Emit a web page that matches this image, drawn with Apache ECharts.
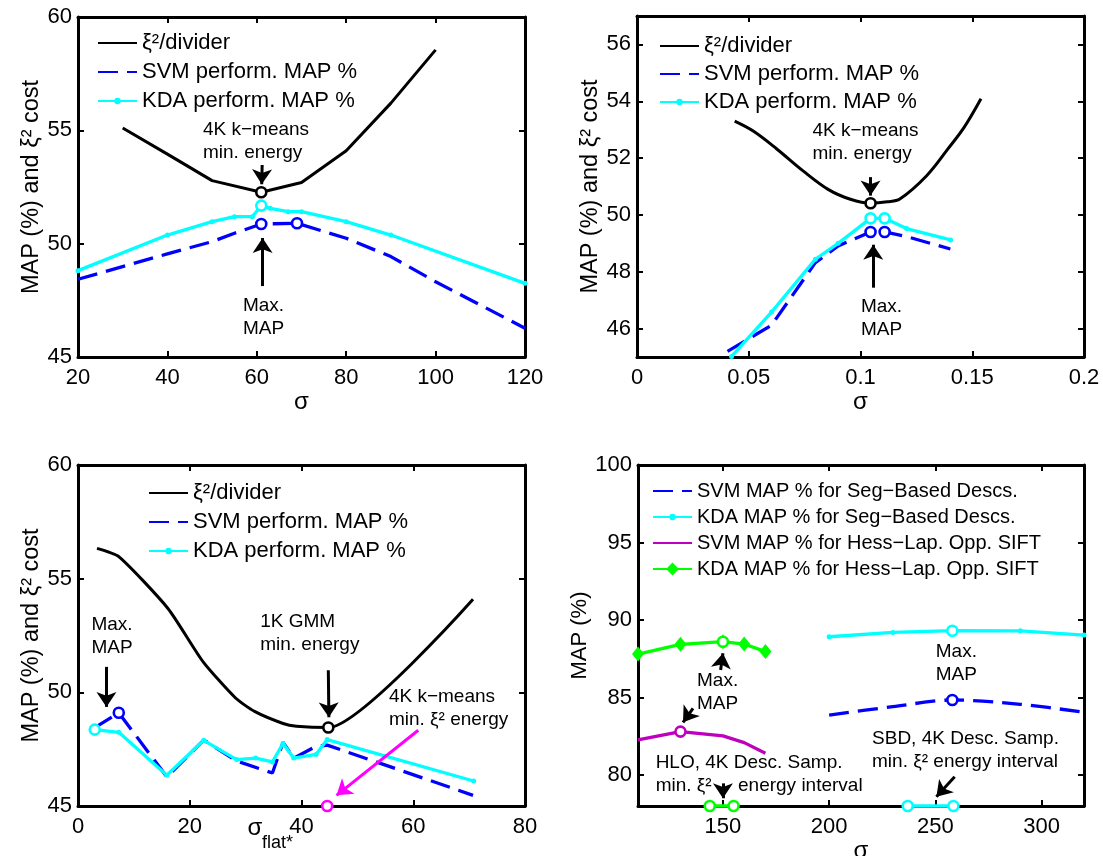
<!DOCTYPE html>
<html><head><meta charset="utf-8">
<script src="https://cdn.jsdelivr.net/npm/echarts@6/dist/echarts.min.js"></script>
<style>html,body{margin:0;padding:0;background:#fff}#c{width:1103px;height:856px}</style>
</head><body><div id="c"></div>
<script>
// ---------- Panel 1 (top-left) ----------
const p1ChiX = [30, 40, 50, 61, 70, 80, 90, 100];
const p1Chi  = [55.1, 53.95, 52.78, 52.27, 52.7, 54.1, 56.2, 58.55];
const p1SvmX = [20, 40, 50, 55, 61, 69, 80, 90, 100, 120];
const p1Svm  = [48.43, 49.55, 50.09, 50.46, 50.87, 50.9, 50.24, 49.43, 48.32, 46.27];
const p1KdaX = [20, 40, 50, 55, 59, 61, 63, 67, 70, 80, 90, 120];
const p1Kda  = [48.81, 50.38, 50.97, 51.19, 51.19, 51.68, 51.56, 51.41, 51.41, 50.97, 50.38, 48.25];
const p1CircBlack = [[61, 52.27]];
const p1CircCyan  = [[61, 51.68]];
const p1CircBlue  = [[61, 50.87], [69, 50.9]];
const p1XTicks = [20, 40, 60, 80, 100, 120];
const p1YTicks = [45, 50, 55, 60];

// ---------- Panel 2 (top-right) ----------
const p2ChiX = [0.0437, 0.052, 0.0624, 0.0743, 0.0855, 0.0955, 0.1045, 0.112, 0.1176, 0.1296, 0.1392, 0.1465, 0.1539];
const p2Chi  = [53.3, 52.95, 52.33, 51.55, 50.9, 50.55, 50.41, 50.46, 50.56, 51.38, 52.33, 53.1, 54.09];
const p2SvmX = [0.0405, 0.0602, 0.0798, 0.09, 0.1045, 0.1108, 0.1206, 0.1402];
const p2Svm  = [45.2, 46.12, 48.32, 48.91, 49.4, 49.4, 49.24, 48.8];
const p2KdaX = [0.0423, 0.0602, 0.0798, 0.09, 0.1045, 0.1108, 0.1206, 0.1403];
const p2Kda  = [45.02, 46.58, 48.44, 49.0, 49.88, 49.88, 49.52, 49.12];
const p2CircBlack = [[0.1045, 50.41]];
const p2CircCyan  = [[0.1045, 49.88], [0.1108, 49.88]];
const p2CircBlue  = [[0.1045, 49.4], [0.1108, 49.4]];
const p2XTicks = [0, 0.05, 0.1, 0.15, 0.2];
const p2YTicks = [46, 48, 50, 52, 54, 56];

// ---------- Panel 3 (bottom-left) ----------
const p3ChiX = [3.4, 7.35, 16.1, 22.4, 28.2, 31.6, 36.7, 39.1, 44.8, 70.7];
const p3Chi  = [56.33, 55.96, 53.69, 51.34, 49.75, 49.16, 48.63, 48.51, 48.45, 54.09];
const p3SvmX = [3.0, 7.3, 15.9, 22.5, 28.4, 34.8, 36.7, 38.6, 42.4, 44.6, 70.7];
const p3Svm  = [48.45, 49.1, 46.28, 47.9, 46.98, 46.45, 47.8, 47.1, 47.6, 47.68, 45.47];
const p3KdaX = [3.0, 7.3, 15.9, 22.5, 28.4, 31.8, 34.8, 36.7, 38.6, 42.6, 44.6, 70.8];
const p3Kda  = [48.36, 48.24, 46.35, 47.89, 47.04, 47.11, 46.94, 47.75, 47.11, 47.27, 47.92, 46.1];
const p3CircBlack = [[44.8, 48.45]];
const p3CircCyan  = [[3.0, 48.36]];
const p3CircBlue  = [[7.3, 49.1]];
const p3CircMag   = [[44.6, 45.0]];
const p3XTicks = [0, 20, 40, 60, 80];
const p3YTicks = [45, 50, 55, 60];

// ---------- Panel 4 (bottom-right) ----------
const p4SegX    = [200, 230, 258, 290, 320];
const p4SegSvm  = [83.87, 84.41, 84.84, 84.56, 84.05];
const p4SegKda  = [88.92, 89.2, 89.31, 89.3, 89.03];
const p4HessX   = [110, 130, 150, 160, 170];
const p4HessSvm = [82.26, 82.8, 82.52, 82.09, 81.4];
const p4HessKda = [87.8, 88.43, 88.6, 88.45, 87.96];
const p4IntHess = [[143.8, 78], [155, 78]];
const p4IntSeg  = [[237, 78], [258.5, 78]];
const p4CircCyan   = [[258, 89.31]];
const p4CircBlue   = [[258, 84.84]];
const p4CircPurple = [[130, 82.8]];
const p4CircGreen  = [[150, 88.6]];
const p4XTicks = [150, 200, 250, 300];
const p4YTicks = [80, 85, 90, 95, 100];

// ---------- Annotations (data coordinates) ----------
const annTexts = [
  [0, 47.96, 54.53, '4K k\u2212means\nmin. energy'],
  [0, 56.9, 46.77, 'Max.\nMAP'],
  [1, 0.0785, 52.54, '4K k\u2212means\nmin. energy'],
  [1, 0.1002, 46.35, 'Max.\nMAP'],
  [2, 2.4, 52.47, 'Max.\nMAP'],
  [2, 32.6, 52.6, '1K GMM\nmin. energy'],
  [2, 55.64, 49.32, '4K k\u2212means\nmin. \u03be\u00b2 energy'],
  [3, 137.8, 85.35, 'Max.\nMAP'],
  [3, 250.2, 87.19, 'Max.\nMAP'],
  [3, 118.3, 80.06, 'HLO, 4K Desc. Samp.\nmin. \u03be\u00b2     energy interval'],
  [3, 220.2, 81.61, 'SBD, 4K Desc. Samp.\nmin. \u03be\u00b2 energy interval']
];
const annArrows = [
  [0, [61.2, 53.47], [61.1, 52.62], '#000000'],
  [0, [61.3, 48.13], [61.3, 50.25], '#000000'],
  [1, [0.1045, 51.33], [0.1045, 50.68], '#000000'],
  [1, [0.1057, 47.44], [0.1057, 48.95], '#000000'],
  [2, [5.09, 51.12], [5.09, 49.36], '#000000'],
  [2, [44.8, 50.97], [44.9, 48.9], '#000000'],
  [2, [60.9, 48.33], [46.27, 45.47], '#ff00ff'],
  [3, [148.9, 86.77], [150.0, 87.85], '#000000'],
  [3, [135.9, 84.3], [131.2, 83.4], '#000000'],
  [3, [150, 79.46], [150, 78.5], '#000000'],
  [3, [259.1, 79.89], [250.5, 78.6], '#000000']
];

const FONT = '"Liberation Sans", Arial, Helvetica, sans-serif';
const xy = (xs, ys) => xs.map((x, i) => [x, ys[i]]);

const grids = [
  {left: 78, top: 17, width: 447, height: 340},
  {left: 637, top: 16, width: 447, height: 341},
  {left: 78, top: 465, width: 447, height: 341},
  {left: 638, top: 465, width: 446, height: 341}
];
const axLine = {show: true, onZero: false, lineStyle: {color: '#000', width: 3}};
function tick(vals) { return {show: true, inside: true, length: 6, customValues: vals, lineStyle: {color: '#000', width: 2}}; }
function mkX(g, min, max, ticks, name, gap) {
  return {type: 'value', gridIndex: g, min, max, position: 'bottom', axisLine: axLine, axisTick: tick(ticks),
    axisLabel: {show: true, customValues: ticks, color: '#000', fontSize: 22, fontFamily: FONT, margin: 10},
    splitLine: {show: false}, name: name, nameLocation: 'middle', nameGap: gap,
    nameTextStyle: {color: '#000', fontSize: 24, fontFamily: FONT}};
}
function mkXTop(g, min, max, ticks) {
  return {type: 'value', gridIndex: g, min, max, position: 'top', axisLine: axLine, axisTick: tick(ticks),
    axisLabel: {show: false}, splitLine: {show: false}};
}
function mkY(g, min, max, ticks, name, gap, nfs) {
  return {type: 'value', gridIndex: g, min, max, position: 'left', axisLine: axLine, axisTick: tick(ticks),
    axisLabel: {show: true, customValues: ticks, color: '#000', fontSize: 22, fontFamily: FONT, margin: 6},
    splitLine: {show: false}, name: name, nameLocation: 'middle', nameGap: gap, nameRotate: 90,
    nameTextStyle: {color: '#000', fontSize: nfs, fontFamily: FONT}};
}
function mkYRight(g, min, max, ticks) {
  return {type: 'value', gridIndex: g, min, max, position: 'right', axisLine: axLine, axisTick: tick(ticks),
    axisLabel: {show: false}, splitLine: {show: false}};
}

const yName = 'MAP (%) and \u03be\u00b2 cost';
const xAxis = [
  mkX(0, 20, 120, p1XTicks, '\u03c3', 32),
  mkX(1, 0, 0.2, p2XTicks, '\u03c3', 32),
  mkX(2, 0, 80, p3XTicks, '', 30),
  mkX(3, 110, 320, p4XTicks, '\u03c3', 29),
  mkXTop(0, 20, 120, p1XTicks), mkXTop(1, 0, 0.2, p2XTicks), mkXTop(2, 0, 80, p3XTicks), mkXTop(3, 110, 320, p4XTicks)
];
const yAxis = [
  mkY(0, 45, 60, p1YTicks, yName, 34, 23.5),
  mkY(1, 45, 57, p2YTicks, yName, 34, 23.5),
  mkY(2, 45, 60, p3YTicks, yName, 34, 23.5),
  mkY(3, 78, 100, p4YTicks, 'MAP (%)', 38, 22),
  mkYRight(0, 45, 60, p1YTicks), mkYRight(1, 45, 57, p2YTicks), mkYRight(2, 45, 60, p3YTicks), mkYRight(3, 78, 100, p4YTicks)
];

const BLACK = '#000000', BLUE = '#0000ff', CYAN = '#00ffff', MAG = '#ff00ff', PURPLE = '#bf00bf', GREEN = '#00ff00';
const series = [];
function line(g, name, data, color, opts) {
  const o = Object.assign({dash: 'solid', width: 3, symbol: 'none', size: 5, smooth: false}, opts || {});
  series.push({type: 'line', name: name, xAxisIndex: g, yAxisIndex: g, data: data, smooth: o.smooth,
    symbol: o.symbol, symbolSize: o.size, showSymbol: o.symbol !== 'none', clip: false,
    lineStyle: {color: color, width: o.width, type: o.dash, opacity: 1}, itemStyle: {color: color, borderWidth: 0, opacity: 1},
    emphasis: {disabled: true}, silent: true, z: o.z || 3});
}
function circles(g, data, color) {
  series.push({type: 'scatter', xAxisIndex: g, yAxisIndex: g, data: data, symbol: 'circle', symbolSize: 10,
    clip: false, itemStyle: {color: '#ffffff', borderColor: color, borderWidth: 2.6, opacity: 1}, silent: true, z: 5,
    emphasis: {disabled: true}});
}
const DASH = [20, 9];
// panel 1
line(0, '\u03be\u00b2/divider', xy(p1ChiX, p1Chi), BLACK);
line(0, 'SVM perform. MAP %', xy(p1SvmX, p1Svm), BLUE, {dash: DASH, width: 3.3});
line(0, 'KDA perform. MAP %', xy(p1KdaX, p1Kda), CYAN, {symbol: 'circle', size: 5, width: 3.3});
circles(0, p1CircBlack, BLACK); circles(0, p1CircCyan, CYAN); circles(0, p1CircBlue, BLUE);
// panel 2
line(1, '\u03be\u00b2/divider', xy(p2ChiX, p2Chi), BLACK, {smooth: 0.35});
line(1, 'SVM perform. MAP %', xy(p2SvmX, p2Svm), BLUE, {dash: DASH, width: 3.3});
line(1, 'KDA perform. MAP %', xy(p2KdaX, p2Kda), CYAN, {symbol: 'circle', size: 5, width: 3.3});
circles(1, p2CircBlack, BLACK); circles(1, p2CircCyan, CYAN); circles(1, p2CircBlue, BLUE);
// panel 3
line(2, '\u03be\u00b2/divider', xy(p3ChiX, p3Chi), BLACK, {smooth: 0.2});
line(2, 'SVM perform. MAP %', xy(p3SvmX, p3Svm), BLUE, {dash: DASH, width: 3.3});
line(2, 'KDA perform. MAP %', xy(p3KdaX, p3Kda), CYAN, {symbol: 'circle', size: 5, width: 3.3});
circles(2, p3CircBlack, BLACK); circles(2, p3CircCyan, CYAN); circles(2, p3CircBlue, BLUE); circles(2, p3CircMag, MAG);
// panel 4
line(3, 'SVM MAP % for Seg\u2212Based Descs.', xy(p4SegX, p4SegSvm), BLUE, {dash: DASH, width: 3.3, smooth: 0.3});
line(3, 'KDA MAP % for Seg\u2212Based Descs.', xy(p4SegX, p4SegKda), CYAN, {symbol: 'circle', size: 5, width: 3.3});
line(3, 'SVM MAP % for Hess\u2212Lap. Opp. SIFT', xy(p4HessX, p4HessSvm), PURPLE, {width: 3.3});
line(3, 'KDA MAP % for Hess\u2212Lap. Opp. SIFT', xy(p4HessX, p4HessKda), GREEN, {symbol: 'diamond', size: [12, 15], width: 3.3});
line(3, 'hessInt', p4IntHess, GREEN, {width: 3.3});
line(3, 'segInt', p4IntSeg, CYAN, {width: 3.3});
circles(3, p4IntHess, GREEN); circles(3, p4IntSeg, CYAN);
circles(3, p4CircCyan, CYAN); circles(3, p4CircBlue, BLUE); circles(3, p4CircPurple, PURPLE); circles(3, p4CircGreen, GREEN);

// arrows as markLines on helper series
[0, 1, 2, 3].forEach(g => {
  const items = annArrows.filter(a => a[0] === g);
  series.push({type: 'line', xAxisIndex: g, yAxisIndex: g, data: [], silent: true, z: 6,
    markLine: {silent: true, animation: false, symbol: ['none', 'arrow'], symbolSize: 15, label: {show: false},
      emphasis: {disabled: true},
      data: items.map(a => [
        {coord: a[1], lineStyle: {color: a[3], width: 3, type: 'solid', opacity: 1}, itemStyle: {color: a[3], opacity: 1}},
        {coord: a[2]}
      ])}});
});

function legend(left, top, items, fontSize, gap, itemHeight) {
  return {orient: 'vertical', left: left, top: top, padding: 0, itemGap: gap, itemWidth: 39, itemHeight: itemHeight,
    selectedMode: false, textStyle: {fontSize: fontSize, fontFamily: FONT, color: '#000'},
    data: items.map(it => it[1] ? {name: it[0]} : {name: it[0], itemStyle: {opacity: 0}})};
}
const leg3 = [['\u03be\u00b2/divider', false], ['SVM perform. MAP %', false], ['KDA perform. MAP %', true]];
const legends = [
  legend(97, 32, leg3, 22, 7, 8),
  legend(659, 35, leg3, 22, 6, 8),
  legend(148, 482, leg3, 22, 7, 8),
  legend(652, 481, [['SVM MAP % for Seg\u2212Based Descs.', false], ['KDA MAP % for Seg\u2212Based Descs.', true]], 20, 6, 8),
  legend(652, 533, [['SVM MAP % for Hess\u2212Lap. Opp. SIFT', false], ['KDA MAP % for Hess\u2212Lap. Opp. SIFT', true]], 20, 6, 16)
];

const chart = echarts.init(document.getElementById('c'), null, {renderer: 'canvas'});
chart.setOption({
  animation: false,
  backgroundColor: '#ffffff',
  grid: grids.map(g => Object.assign({outerBoundsMode: 'none', containLabel: false}, g)),
  xAxis: xAxis, yAxis: yAxis, legend: legends, series: series
});

const graphics = annTexts.map(a => {
  const p = chart.convertToPixel({xAxisIndex: a[0], yAxisIndex: a[0]}, [a[1], a[2]]);
  return {type: 'text', silent: true, z: 10, x: p[0], y: p[1],
    style: {text: a[3], fill: '#000', fontSize: 19, fontFamily: FONT, lineHeight: 23, align: 'left', verticalAlign: 'middle'}};
});
// sigma_flat* axis title for panel 3
graphics.push({type: 'text', silent: true, x: 255, y: 828,
  style: {text: '\u03c3', fill: '#000', fontSize: 24, fontFamily: FONT, align: 'center', verticalAlign: 'middle'}});
graphics.push({type: 'text', silent: true, x: 262, y: 843,
  style: {text: 'flat*', fill: '#000', fontSize: 18, fontFamily: FONT, align: 'left', verticalAlign: 'middle'}});
chart.setOption({graphic: graphics});
</script></body></html>
